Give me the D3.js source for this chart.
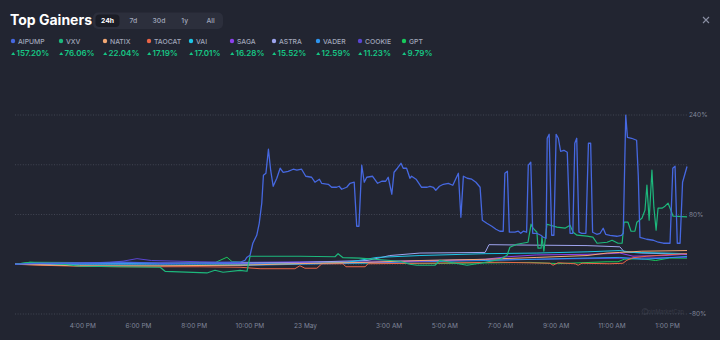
<!DOCTYPE html>
<html><head><meta charset="utf-8">
<script src="https://cdn.jsdelivr.net/npm/d3@7/dist/d3.min.js"></script>
<style>
html,body{margin:0;padding:0;background:#222531;}
svg{display:block;font-family:Inter,"Noto Sans",sans-serif;}
</style></head>
<body><svg id="c" width="720" height="340"></svg>
<script>
// ---- data ----
const startTime = "2025-05-22T13:34:00";
const endTime   = "2025-05-23T13:41:45";
const tabs = ["24h","7d","30d","1y","All"];
const names   = ["AIPUMP","VXV","NATIX","TAOCAT","VAI","SAGA","ASTRA","VADER","COOKIE","GPT"];
const changes = [157.20, 76.06, 22.04, 17.19, 17.01, 16.28, 15.52, 12.59, 11.23, 9.79];
const colors  = ["#4668e0","#1db87c","#f3a874","#ea6547","#1ec6e6","#8d40ee","#9ea4ee","#2e95ef","#5a45d2","#18c95c"];
const yTicks = [-80, 0, 80, 160, 240];
const yTickLabels = ["-80%", "", "80%", "", "240%"];
const xTickTimes = ["2025-05-22T16:00","2025-05-22T18:00","2025-05-22T20:00","2025-05-22T22:00","2025-05-23T00:00",
  "2025-05-23T03:00","2025-05-23T05:00","2025-05-23T07:00","2025-05-23T09:00","2025-05-23T11:00","2025-05-23T13:00"];
const xTickLabels = ["4:00 PM","6:00 PM","8:00 PM","10:00 PM","23 May","3:00 AM","5:00 AM","7:00 AM","9:00 AM","11:00 AM","1:00 PM"];

// [hours since start, % change]
const AIPUMP = [[0,0],[0.9,1.6],[2.33,1.6],[3.77,3.2],[5.21,1.6],[6.64,1.6],[8.08,3.2],[8.26,6.4],[8.33,11.3],[8.44,14.5],[8.54,33.8],[8.68,46.6],[8.77,65.9],[8.86,98.1],[8.92,143.1],[9.01,146.3],[9.10,184.9],[9.18,151.2],[9.27,125.4],[9.40,138.3],[9.52,154.4],[9.63,147.9],[9.81,149.5],[9.99,152.8],[10.12,151.2],[10.29,152.8],[10.44,141.5],[10.65,139.9],[10.77,131.9],[10.93,136.7],[11.01,130.2],[11.25,128.6],[11.37,123.8],[11.55,123.8],[11.64,125.4],[11.73,120.6],[11.91,123.8],[12.03,130.2],[12.18,131.9],[12.27,61.1],[12.35,61.1],[12.45,159.2],[12.54,131.9],[12.63,139.9],[12.84,141.5],[13.02,130.2],[13.17,133.5],[13.31,133.5],[13.40,139.9],[13.53,112.6],[13.61,147.9],[13.73,154.4],[13.86,162.4],[13.94,154.4],[14.06,154.4],[14.18,138.3],[14.24,141.5],[14.40,136.7],[14.60,123.8],[14.80,123.8],[14.90,125.4],[15.02,123.8],[15.11,119.0],[15.24,125.4],[15.38,128.6],[15.56,130.2],[15.72,127.0],[15.92,146.3],[16.01,75.6],[16.10,141.5],[16.24,138.3],[16.40,136.7],[16.55,131.9],[16.70,123.8],[16.78,70.8],[16.94,65.9],[17.12,61.1],[17.27,56.3],[17.41,53.1],[17.53,53.1],[17.59,146.3],[17.68,149.5],[17.75,51.5],[17.95,51.5],[18.07,53.1],[18.16,49.8],[18.25,53.1],[18.37,51.5],[18.43,159.2],[18.52,164.0],[18.59,49.8],[18.73,49.8],[18.88,46.6],[18.97,43.4],[19.07,41.8],[19.11,202.6],[19.18,209.0],[19.27,46.6],[19.35,46.6],[19.43,209.0],[19.51,202.6],[19.59,181.7],[19.71,183.3],[19.83,180.1],[19.93,49.8],[20.03,49.8],[20.10,194.6],[20.17,202.6],[20.25,51.5],[20.35,49.8],[20.50,49.8],[20.59,194.6],[20.67,194.6],[20.74,51.5],[20.89,48.2],[21.01,49.8],[21.12,57.9],[21.21,48.2],[21.36,46.6],[21.61,45.0],[21.78,46.6],[21.84,49.8],[21.93,239.6],[21.99,204.2],[22.14,202.6],[22.32,199.4],[22.38,141.5],[22.44,43.4],[22.68,40.2],[22.92,38.6],[23.10,35.4],[23.28,33.8],[23.46,33.8],[23.52,33.8],[23.62,154.4],[23.70,157.6],[23.78,33.8],[23.88,33.8],[23.97,131.9],[24.13,157.2]];
const VXV = [[0,0],[0.54,3.2],[1.72,0],[2.33,-3.2],[5.21,-4.8],[5.39,-11.3],[6.89,-14],[7.18,-9.7],[7.47,-12.9],[8.08,-9.7],[8.33,-11.3],[8.44,12.9],[10.23,12.9],[11.49,12.1],[11.60,16.9],[11.78,10.5],[12.39,9.7],[13.82,4.8],[14.18,0],[14.43,-1.6],[15.08,-1.6],[15.26,6.4],[15.62,3.2],[16.23,-1.6],[16.70,1.6],[17.41,7.6],[17.67,14.5],[17.77,27.4],[18.02,32.2],[18.42,35.4],[18.53,64.4],[18.60,58.0],[18.74,51.5],[18.78,25.8],[18.89,25.8],[18.92,43.5],[18.99,20.9],[19.10,64.4],[19.46,59.6],[19.75,58.0],[19.93,62.8],[20.04,51.5],[20.18,46.7],[20.54,45.1],[20.75,43.5],[20.90,33.8],[21.26,35.4],[21.44,38.6],[21.65,33.8],[21.80,33.8],[21.87,67.6],[22.01,67.6],[22.12,53.1],[22.26,53.1],[22.33,67.6],[22.51,74.1],[22.62,86.9],[22.69,127.2],[22.77,70.8],[22.87,151.3],[22.94,91.8],[23.02,54.7],[23.09,90.2],[23.23,90.2],[23.34,93.4],[23.45,98.2],[23.55,86.9],[23.63,77.3],[24.13,76.06]];
const NATIX = [[0,0],[0.9,-1],[2.33,-2.5],[5.21,-2.5],[8.08,-1.5],[10.23,1],[12.57,3],[14.54,6],[16.88,8],[18.74,11],[20.54,14],[21.26,18],[21.72,19],[22.51,21],[23.34,21.5],[24.13,22.04]];
const TAOCAT = [[0,0],[0.9,-1.6],[2.33,-3.2],[3.77,-4],[6.64,-4],[8.08,-4.8],[8.80,-7.2],[10.05,-7.2],[10.23,-2.4],[10.41,-6.4],[10.84,-6.4],[11.02,0.8],[11.78,0.8],[11.88,-4],[12.57,-4],[12.68,0.8],[14.54,1.6],[15.98,2.4],[17.41,3.2],[19.21,1.6],[19.32,-1.6],[19.50,2.4],[20.11,0.8],[20.22,-1.6],[20.36,1.6],[21.36,0.8],[21.83,1.6],[21.97,6.4],[22.19,10.5],[22.69,12.9],[23.16,14.5],[24.13,17.19]];
const VAI = [[0,0],[2.33,0.5],[5.21,1],[8.08,0],[10.23,1],[11.92,3],[13.0,11],[14.54,14],[16.88,17],[18.74,18],[20.54,20],[21.72,22],[22.19,19],[23.34,18],[24.13,17.01]];
const SAGA = [[0,0],[2.33,1],[5.21,2],[8.08,1],[10.23,2],[12.64,3],[14.54,5],[16.88,8],[17.67,12],[18.74,15],[20.54,16],[21.26,17],[21.72,18],[22.19,13],[23.34,14],[24.13,16.28]];
const ASTRA = [[0,0],[2.33,1],[5.21,1],[8.08,2],[10.23,3],[12.64,6],[13.46,14],[14.54,18],[16.88,19],[17.02,31.5],[18.0,31],[20.54,30],[21.72,28],[21.87,20],[22.51,18],[23.34,17],[24.13,15.52]];
const VADER = [[0,0],[2.33,-1],[5.21,-1],[8.08,-2],[10.23,0],[12.64,2],[14.54,4],[16.88,6],[18.74,8],[20.54,10],[21.72,11],[22.51,8],[23.34,10],[24.13,12.59]];
const COOKIE = [[0,0],[1.72,2],[3.4,3],[3.88,5],[4.38,9],[4.9,6],[6.64,4],[8.08,3],[10.23,4],[12.64,5],[14.54,6],[16.88,7],[18.74,8],[20.54,9],[22.51,10],[24.13,11.23]];
const GPT = [[0,0],[0.54,3.2],[3.5,2.5],[5.21,1.5],[7.2,3],[7.61,11.3],[7.8,4],[8.3,3],[9.0,2],[12.0,2],[14.54,1],[16.7,2],[18.5,3],[19.5,1],[21.26,4],[21.65,4],[21.87,8],[22.5,9],[23.0,6],[23.5,10],[24.13,9.79]];
const seriesData = [AIPUMP, VXV, NATIX, TAOCAT, VAI, SAGA, ASTRA, VADER, COOKIE, GPT];

// ---- drawing ----
const svg = d3.select("#c");
const t0 = new Date(startTime);
const toDate = h => new Date(t0.getTime() + h * 3600e3);
const x = d3.scaleTime().domain([t0, new Date(endTime)]).range([15, 687]);
const y = d3.scaleLinear().domain([-80, 240]).range([314, 115]);

// header
svg.append("text").attr("x", 10).attr("y", 25).attr("fill", "#ffffff")
  .attr("font-size", 14).attr("font-weight", 700).text("Top Gainers");
svg.append("rect").attr("x", 93).attr("y", 12.5).attr("width", 130).attr("height", 16.5)
  .attr("rx", 5).attr("fill", "#2c2f3c");
const tabX = d3.scalePoint().domain(tabs).range([107.5, 210.5]);
svg.append("rect").attr("x", 95.5).attr("y", 14.5).attr("width", 24).attr("height", 12.5)
  .attr("rx", 4).attr("fill", "#1b1d26");
svg.selectAll(".tab").data(tabs).enter().append("text")
  .attr("x", d => tabX(d)).attr("y", 23.3).attr("text-anchor", "middle")
  .attr("font-size", 6.8).attr("font-weight", (d, i) => i === 0 ? 700 : 500)
  .attr("fill", (d, i) => i === 0 ? "#ffffff" : "#a1a7bb").text(d => d);
// close
svg.append("path").attr("d", "M703,17 L709,23 M709,17 L703,23")
  .attr("stroke", "#8a8fa3").attr("stroke-width", 1.1);

// legend
const legX = [13, 61, 105, 149, 191, 232, 274, 318, 360, 404];
const leg = svg.selectAll(".leg").data(names).enter().append("g")
  .attr("transform", (d, i) => `translate(${legX[i]},0)`);
leg.append("circle").attr("cx", 0).attr("cy", 41).attr("r", 2.2).attr("fill", (d, i) => colors[i]);
leg.append("text").attr("x", 5).attr("y", 43.5).attr("font-size", 6.8).attr("font-weight", 500)
  .attr("fill", "#a1a7bb").text(d => d);
leg.append("path").attr("d", "M-1.8,55 L0.2,52 L2.2,55 Z").attr("fill", "#16c784");
leg.append("text").attr("x", 3.5).attr("y", 55.8).attr("font-size", 8).attr("font-weight", 600)
  .attr("fill", "#16c784").text((d, i) => changes[i].toFixed(2) + "%");

// grid
svg.append("g").selectAll("line").data(yTicks).enter().append("line")
  .attr("x1", 15).attr("x2", 687).attr("y1", d => y(d)).attr("y2", d => y(d))
  .attr("stroke", "#4a4e5c").attr("stroke-width", 0.8).attr("stroke-dasharray", "1,1.6");
svg.append("g").selectAll("text").data(yTicks).enter().append("text")
  .attr("x", 689).attr("y", d => y(d) + 2.3).attr("font-size", 6.5)
  .attr("fill", "#80869a").text((d, i) => yTickLabels[i]);

// x axis labels
svg.append("g").selectAll("text").data(xTickTimes).enter().append("text")
  .attr("x", d => x(new Date(d))).attr("y", 327.5).attr("text-anchor", "middle")
  .attr("font-size", 6.5).attr("fill", "#80869a").text((d, i) => xTickLabels[i]);

// watermark
const wm = svg.append("g").attr("opacity", 0.5);
wm.append("circle").attr("cx", 645).attr("cy", 311.5).attr("r", 3).attr("fill", "none").attr("stroke", "#4a4e5c").attr("stroke-width", 0.8);
wm.append("text").attr("x", 684).attr("y", 313.5).attr("text-anchor", "end").attr("font-size", 5.5).attr("fill", "#4a4e5c").text("CoinMarketCap");

// lines
const line = d3.line().x(d => x(toDate(d[0]))).y(d => y(d[1])).curve(d3.curveLinear);
const order = d3.range(seriesData.length).reverse();
svg.append("g").selectAll("path").data(order).enter().append("path")
  .attr("d", i => line(seriesData[i]))
  .attr("fill", "none").attr("stroke", i => colors[i])
  .attr("stroke-width", i => i === 0 ? 1.3 : (i === 1 ? 1.2 : 1))
  .attr("stroke-linejoin", "round");
</script></body></html>
